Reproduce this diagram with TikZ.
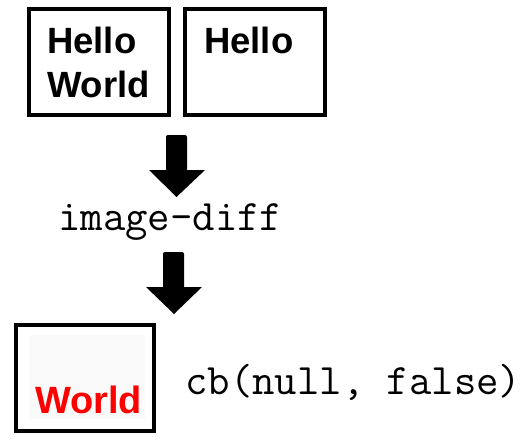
\documentclass[tikz,border=0pt]{standalone}
\usepackage{fontspec}
\setmainfont{Liberation Sans}
\definecolor{faintgray}{HTML}{FAFAFA}
\begin{document}
\begin{tikzpicture}[x=1pt,y=-1pt,
  frame/.style={draw=black,line width=3.6pt,fill=white},
  bigarrow/.style={fill=black,draw=none},
  boxtext/.style={font=\fontsize{36.5}{44}\selectfont\bfseries,inner sep=0pt,anchor=base west},
  codetext/.style={font=\fontsize{43.5}{46}\selectfont\ttfamily,inner sep=0pt,anchor=base west}]
\useasboundingbox (0,0) rectangle (532,444);
% top frames
\draw[frame] (29,9) rectangle (169,115);
\draw[frame] (185,9) rectangle (325,115);
\node[boxtext] (hello1) at (47,53) {Hello};
\node[boxtext] (world1) at (47,97) {World};
\node[boxtext] (hello2) at (204,53) {Hello};
% arrow 1
\fill[bigarrow] (166,138) [rounded corners=2pt] -- (166,135) -- (187,135) [sharp corners] -- (187,170) -- (205,170) -- (176.5,197) -- (149,170) -- (166,170) -- cycle;
% label
\node[codetext] (diff) at (58,230) {image-diff};
% arrow 2
\fill[bigarrow] (163,255) [rounded corners=2pt] -- (163,252) -- (184,252) [sharp corners] -- (184,287) -- (202,287) -- (174,314) -- (146,287) -- (163,287) -- cycle;
% bottom frame
\draw[frame] (16,325) rectangle (154,431);
\fill[faintgray] (29,335) rectangle (145,419);
\node[boxtext,text=red,font=\fontsize{38}{44}\selectfont\bfseries] (world2) at (35,413) {World};
\node[codetext] (cb) at (185,394) {cb(null, false)};
\end{tikzpicture}
\end{document}
